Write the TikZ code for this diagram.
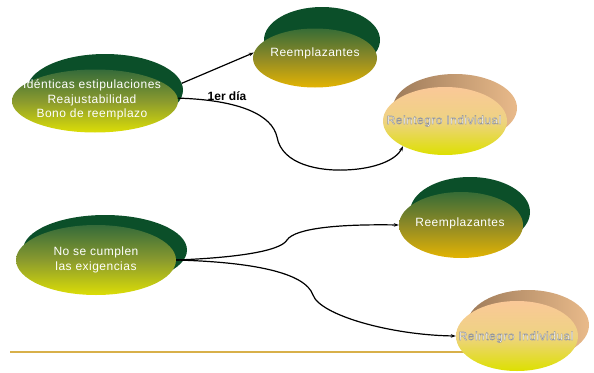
\documentclass[tikz,border=0pt]{standalone}
\usepackage{fontspec}
\setmainfont{Liberation Sans}
\usetikzlibrary{shapes.geometric,arrows.meta}
\definecolor{dkgreen}{HTML}{0B4F29}
\definecolor{gtop}{HTML}{356B3A}
\definecolor{gmid}{HTML}{8A9A2E}
\definecolor{gbot}{HTML}{DCDE06}
\definecolor{otop}{HTML}{366C36}
\definecolor{omid}{HTML}{8F8A26}
\definecolor{obot}{HTML}{E3B402}
\definecolor{ptop}{HTML}{FAC898}
\definecolor{pmid}{HTML}{EED382}
\definecolor{pbot}{HTML}{DDE000}
\definecolor{tanl}{HTML}{9E7B5A}
\definecolor{tanr}{HTML}{E9BA8A}
\definecolor{goldline}{HTML}{D8B04A}
\newcommand{\outltext}[1]{\special{pdf:literal direct 2 Tr 0.4 w 0.58 G}#1\special{pdf:literal direct 0 Tr 0.4 w}}
\begin{document}
\begin{tikzpicture}[x=1pt,y=-1pt,
  ell/.style={ellipse,inner sep=0pt,draw=none},
  backgreen/.style={ell,fill=dkgreen},
  backtan/.style={ell,left color=tanl,right color=tanr},
  frontgy/.style={ell,top color=gtop,bottom color=gbot,middle color=gmid},
  frontgo/.style={ell,top color=otop,bottom color=obot,middle color=omid},
  frontpy/.style={ell,top color=ptop,bottom color=pbot,middle color=pmid},
  lbl/.style={text=white,font=\fontsize{12}{14.5}\selectfont\addfontfeatures{LetterSpace=4},align=center,inner sep=0pt},
  conn/.style={draw=black,line width=1.2pt,-{Stealth[length=5pt,width=3.5pt]}}
]
\useasboundingbox (0,0) rectangle (594,372);
% base line
\coordinate (l0) at (10,352);
\coordinate (l1) at (475,352);
\draw[goldline,line width=1.6pt] (l0) -- (l1);
% back ellipses
\node[backgreen,minimum width=156pt,minimum height=72pt] (tlb) at (105,90) {};
\node[backgreen,minimum width=116pt,minimum height=66pt] (rm1b) at (322,40) {};
\node[backtan,minimum width=124pt,minimum height=68pt] (ri1b) at (455,108) {};
\node[backgreen,minimum width=164pt,minimum height=70pt] (blb) at (105,250) {};
\node[backgreen,minimum width=120pt,minimum height=70pt] (rm2b) at (470,212) {};
\node[backtan,minimum width=122pt,minimum height=70pt] (ri2b) at (528,325) {};
% front ellipses
\node[frontgy,minimum width=166pt,minimum height=63pt] (tl) at (95,101) {};
\node[frontgo,minimum width=124pt,minimum height=59pt] (rm1) at (315,58) {};
\node[frontpy,minimum width=124pt,minimum height=68pt] (ri1) at (445,121) {};
\node[frontgy,minimum width=160pt,minimum height=70pt] (bl) at (96,260) {};
\node[frontgo,minimum width=124pt,minimum height=66pt] (rm2) at (461,225) {};
\node[frontpy,minimum width=122pt,minimum height=70pt] (ri2) at (517,336) {};
% texts
\node[lbl] (tlt) at (92,100) {Idénticas estipulaciones\\Reajustabilidad\\Bono de reemplazo};
\node[lbl] (rm1t) at (315,53) {Reemplazantes};
\node[lbl] (blt) at (96,260) {No se cumplen\\las exigencias};
\node[lbl] (rm2t) at (460,223) {Reemplazantes};
\node[font=\bfseries\fontsize{12}{14}\selectfont,inner sep=0pt] (dia) at (227,96) {1er día};
% connectors
\draw[conn] (tlb.5) -- (rm1.175);
\draw[conn] (tl.2) .. controls (240,100) and (272,115) .. (277,137)
   .. controls (282,165) and (320,171) .. (345,170)
   .. controls (375,169) and (396,160) .. (ri1.211);
\draw[conn] (bl.east) .. controls (230,258) and (280,252) .. (287,240)
   .. controls (295,228) and (340,224) .. (rm2.west);
\draw[conn] (bl.east) .. controls (250,262) and (305,272) .. (313,295)
   .. controls (320,315) and (390,335) .. (ri2.west);
% outlined texts
\node[lbl] (ri1t) at (444,121) {\outltext{Reintegro Individual}};
\node[lbl] (ri2t) at (516,337) {\outltext{Reintegro Individual}};
\end{tikzpicture}
\end{document}
